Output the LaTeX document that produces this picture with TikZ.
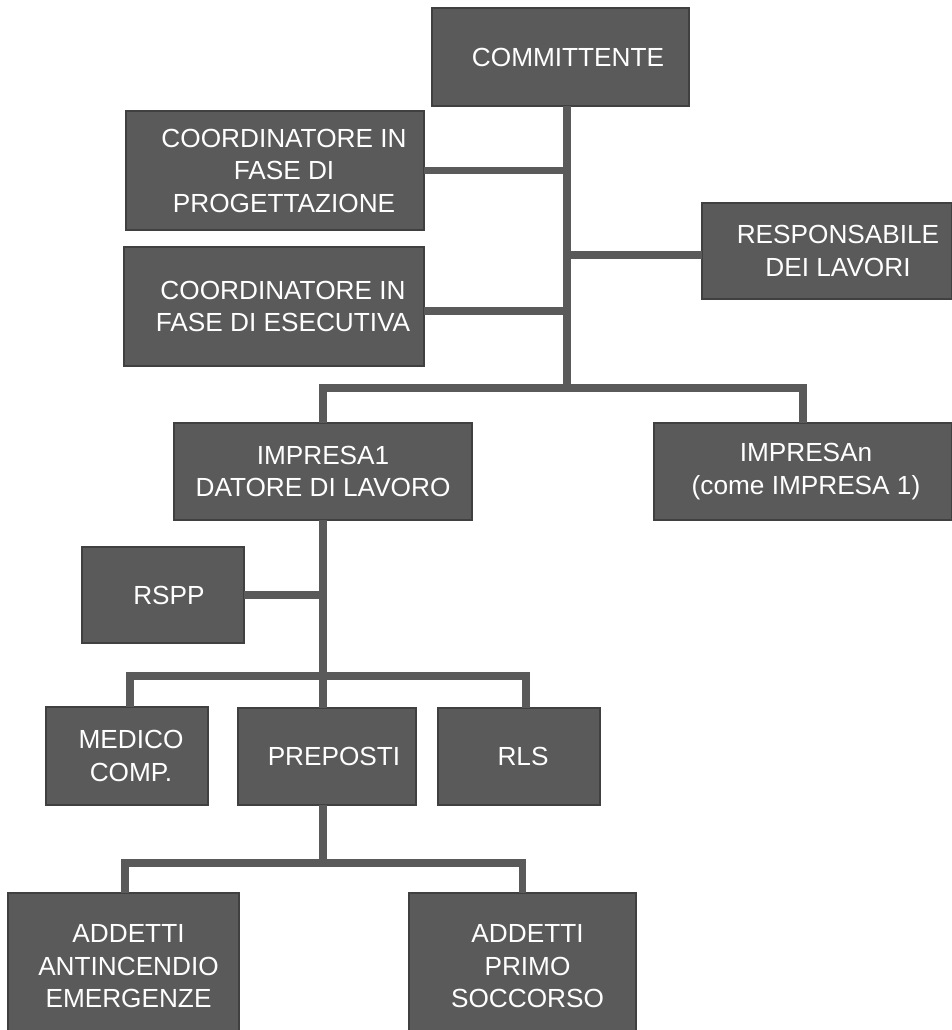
\documentclass[tikz,border=0pt]{standalone}
\usepackage{fontspec}
\setmainfont{Liberation Sans}
\usetikzlibrary{positioning}
\definecolor{boxfill}{HTML}{5A5A5A}
\definecolor{boxline}{HTML}{404040}
\definecolor{linkgray}{HTML}{5A5A5A}
\newlength\padlen
\newcommand{\pad}{\hspace*{\padlen}}

\begin{document}
\begin{tikzpicture}[x=1pt,y=1pt,
   orgbox/.style={draw=boxline,fill=boxfill,line width=2pt,text=white,
     align=center,inner sep=0pt,outer sep=0pt,
     font=\fontsize{26.2}{32.5}\selectfont},
   pad/.code={\setlength\padlen{#1}},
   link/.style={draw=linkgray,line width=7.5pt}]
  \useasboundingbox (0,0) rectangle (951,-1030);
  % committente and its staff
  \node[orgbox,pad=15pt,minimum width=257pt,minimum height=98pt] (comm) at (560.5,-57) {\pad COMMITTENTE};
  \node[orgbox,pad=18pt,minimum width=298pt,minimum height=119pt] (prog) [below left=5pt and 8pt of comm]
    {\pad COORDINATORE IN\\\pad FASE DI\\\pad PROGETTAZIONE};
  \node[orgbox,pad=18pt,minimum width=300pt,minimum height=119pt] (esec) [below=17pt of prog.south east,anchor=north east]
    {\pad COORDINATORE IN\\\pad FASE DI ESECUTIVA};
  \node[orgbox,pad=22pt,minimum width=250pt,minimum height=96pt] (resp) [below right=97pt and 13pt of comm]
    {\pad RESPONSABILE\\\pad DEI LAVORI};
  % imprese
  \node[orgbox,pad=0pt,minimum width=298pt,minimum height=97pt] (imp1) at (323,-471.5)
    {IMPRESA1\\DATORE DI LAVORO};
  \node[orgbox,pad=6pt,minimum width=298pt,minimum height=97pt] (impn) [right=182pt of imp1]
    {\pad IMPRESAn\\\pad (come IMPRESA 1)};
  % figure dell'impresa
  \node[orgbox,pad=12pt,minimum width=162pt,minimum height=96pt] (rspp) at (163,-595) {\pad RSPP};
  \node[orgbox,pad=8pt,minimum width=162pt,minimum height=98pt] (medico) at (127,-756) {\pad MEDICO\\\pad COMP.};
  \node[orgbox,pad=14pt,minimum width=178pt,minimum height=97pt] (prep) [right=30pt of medico] {\pad PREPOSTI};
  \node[orgbox,pad=8pt,minimum width=162pt,minimum height=97pt] (rls) [right=22pt of prep] {\pad RLS};
  \node[orgbox,pad=10pt,minimum width=231pt,minimum height=147pt] (addA) at (123.5,-966.5)
    {\pad ADDETTI\\\pad ANTINCENDIO\\\pad EMERGENZE};
  \node[orgbox,pad=10pt,minimum width=227pt,minimum height=147pt] (addP) [right=170pt of addA]
    {\pad ADDETTI\\\pad PRIMO\\\pad SOCCORSO};
  % connectors
  \coordinate (fork1) at (567,-388);
  \coordinate (fork2) at (323,-676);
  \coordinate (fork3) at (323,-863);
  \draw[link] ([xshift=6.5pt]comm.south) -- (fork1);
  \draw[link] (prog.east) -| (fork1);
  \draw[link] ([yshift=-4.5pt]esec.east) -| (fork1);
  \draw[link] ([yshift=-4pt]resp.west) -| (fork1);
  \draw[link] (imp1.north) |- (fork1) -| (impn.north);
  \draw[link] (imp1.south) -- (fork2);
  \draw[link] (rspp.east) -| (fork2);
  \draw[link] ([xshift=3pt]medico.north) |- (fork2) -| ([xshift=7pt]rls.north);
  \draw[link] (fork2) -- (fork2 |- prep.north);
  \draw[link] (fork2 |- prep.south) -- (fork3);
  \draw[link] ([xshift=1.5pt]addA.north) |- (fork3) -| (addP.north);
\end{tikzpicture}
\end{document}
